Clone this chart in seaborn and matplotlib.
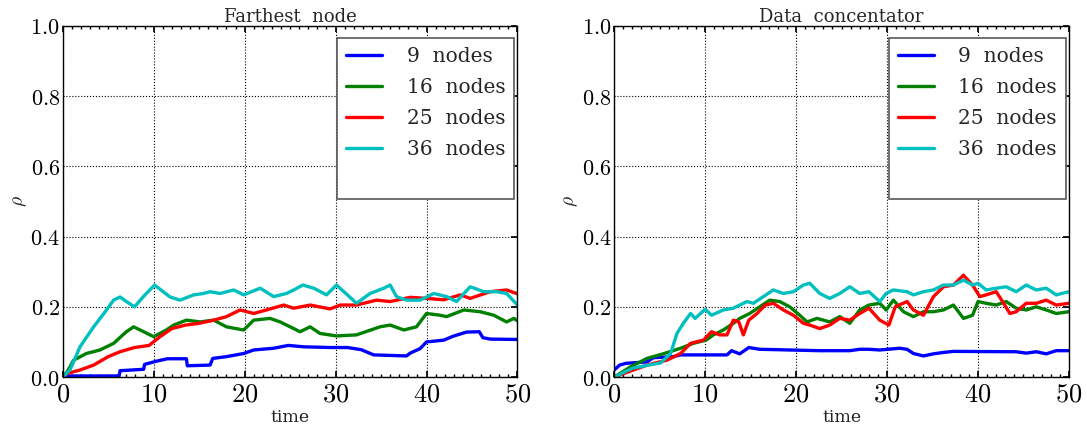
import numpy as np
import pandas as pd
import matplotlib
matplotlib.use("Agg")
import matplotlib.pyplot as plt
import seaborn as sns
from matplotlib.ticker import FuncFormatter, MultipleLocator
from matplotlib.lines import Line2D

# ---------------- data ----------------
titles = ["Farthest  node", "Data  concentator"]
series_labels = ["9  nodes", "16  nodes", "25  nodes", "36  nodes"]
series_colors = ["#0000ff", "#008000", "#ff0000", "#00bfbf"]

# Farthest node
fn9_t = [0, 6.2, 6.3, 8.9, 9.0, 10.3, 11.5, 13.6, 13.7, 16.2, 16.5, 18.0, 19.9, 21.0, 23.2, 24.8, 26.5,
         29.5, 31.3, 32.8, 34.2, 37.8, 38.2, 39.3, 40.0, 41.9, 42.9, 44.4, 45.8, 46.2, 47.0, 50.0]
fn9_v = [0.003, 0.003, 0.018, 0.022, 0.036, 0.045, 0.052, 0.052, 0.032, 0.034, 0.053, 0.058, 0.067, 0.077,
         0.082, 0.09, 0.086, 0.084, 0.084, 0.078, 0.063, 0.06, 0.068, 0.081, 0.1, 0.105, 0.116, 0.128, 0.129,
         0.112, 0.108, 0.107]

fn16_t = [0, 0.5, 1.2, 2.6, 4.1, 5.6, 7.0, 7.8, 8.9, 10.0, 11.4, 12.2, 13.6, 15.1, 16.6, 18.0, 19.9, 21.0,
          22.8, 23.9, 25.0, 26.1, 27.2, 28.3, 30.1, 32.3, 34.9, 36.0, 37.5, 38.9, 40.0, 41.5, 42.2, 44.1,
          45.9, 47.4, 48.8, 49.6, 50]
fn16_v = [0, 0.015, 0.048, 0.067, 0.077, 0.096, 0.129, 0.143, 0.129, 0.115, 0.134, 0.148, 0.162, 0.157,
          0.162, 0.143, 0.134, 0.162, 0.167, 0.157, 0.143, 0.129, 0.143, 0.124, 0.117, 0.12, 0.143, 0.148,
          0.134, 0.143, 0.181, 0.176, 0.172, 0.191, 0.186, 0.176, 0.157, 0.167, 0.16]

fn25_t = [0, 0.5, 1.9, 3.4, 5.0, 6.3, 7.9, 9.5, 10.7, 12.0, 13.5, 15.0, 16.6, 18.0, 19.5, 21.0, 22.4, 24.3,
          25.4, 27.2, 29.4, 30.5, 32.3, 34.5, 36.0, 38.2, 40.0, 41.9, 43.7, 44.8, 47.0, 48.8, 50]
fn25_v = [0, 0.01, 0.02, 0.034, 0.058, 0.072, 0.084, 0.09, 0.115, 0.138, 0.148, 0.153, 0.162, 0.172, 0.191,
          0.181, 0.191, 0.205, 0.196, 0.205, 0.194, 0.205, 0.205, 0.219, 0.215, 0.227, 0.224, 0.22, 0.234,
          0.224, 0.243, 0.248, 0.237]

fn36_t = [0, 0.8, 1.9, 3.4, 4.5, 5.6, 6.3, 7.0, 7.9, 8.9, 10.1, 11.8, 12.9, 14.4, 15.5, 16.2, 17.3, 18.8,
          19.9, 21.7, 23.2, 24.6, 25.4, 26.4, 27.6, 29.0, 30.1, 31.3, 32.3, 33.8, 35.3, 36.0, 36.7, 37.8,
          39.3, 40.8, 42.2, 43.3, 44.8, 46.3, 47.7, 48.8, 50]
fn36_v = [0, 0.02, 0.086, 0.143, 0.18, 0.219, 0.228, 0.215, 0.2, 0.23, 0.262, 0.228, 0.219, 0.234, 0.238,
          0.243, 0.238, 0.248, 0.234, 0.253, 0.229, 0.238, 0.248, 0.262, 0.253, 0.234, 0.262, 0.234, 0.21,
          0.238, 0.253, 0.262, 0.229, 0.219, 0.219, 0.238, 0.229, 0.215, 0.257, 0.243, 0.243, 0.238, 0.205]

# Data concentrator
dc9_t = [0, 0.6, 1.3, 3.6, 4.3, 6.5, 7.3, 12.4, 12.9, 13.8, 14.8, 16.0, 22.6, 25.9, 27.0, 28.0, 29.2, 31.4,
         32.2, 32.9, 34.0, 35.1, 36.2, 37.3, 44.2, 45.3, 46.4, 47.5, 48.6, 50]
dc9_v = [0.02, 0.034, 0.039, 0.043, 0.055, 0.058, 0.063, 0.063, 0.075, 0.066, 0.084, 0.079, 0.075, 0.075,
         0.079, 0.079, 0.077, 0.082, 0.079, 0.067, 0.06, 0.066, 0.07, 0.073, 0.072, 0.068, 0.072, 0.066,
         0.075, 0.075]

dc16_t = [0, 1.8, 3.6, 5.5, 7.3, 8.7, 10.1, 10.9, 12.0, 13.1, 13.8, 14.9, 16.0, 17.1, 18.2, 19.3, 20.4, 21.2,
          22.3, 23.7, 24.8, 25.9, 27.0, 28.0, 29.2, 29.9, 30.7, 31.8, 32.9, 34.0, 35.1, 36.2, 37.3, 38.4,
          39.4, 40.0, 40.9, 42.0, 43.1, 44.2, 45.3, 46.4, 47.5, 48.6, 50]
dc16_v = [0, 0.029, 0.053, 0.067, 0.082, 0.096, 0.105, 0.12, 0.134, 0.153, 0.167, 0.181, 0.2, 0.219, 0.215,
          0.2, 0.176, 0.157, 0.167, 0.157, 0.172, 0.153, 0.191, 0.205, 0.21, 0.191, 0.219, 0.186, 0.172,
          0.186, 0.186, 0.191, 0.205, 0.167, 0.176, 0.215, 0.21, 0.205, 0.215, 0.196, 0.191, 0.2, 0.191,
          0.181, 0.186]

dc25_t = [0, 3.6, 5.8, 7.3, 8.4, 9.8, 10.7, 11.6, 12.4, 13.1, 13.7, 14.2, 14.8, 15.7, 16.6, 17.5, 18.6, 19.7,
          20.8, 21.5, 22.6, 23.7, 24.8, 25.9, 27.0, 28.0, 29.2, 30.2, 30.9, 32.2, 32.9, 34.0, 35.1, 36.2,
          37.3, 38.4, 39.4, 40.2, 40.9, 42.0, 42.7, 43.5, 44.2, 45.3, 46.4, 47.5, 48.6, 50]
dc25_v = [0, 0.034, 0.048, 0.067, 0.096, 0.105, 0.129, 0.12, 0.12, 0.162, 0.157, 0.12, 0.162, 0.181, 0.205,
          0.21, 0.191, 0.176, 0.153, 0.148, 0.138, 0.148, 0.167, 0.162, 0.181, 0.196, 0.162, 0.148, 0.2,
          0.215, 0.191, 0.176, 0.229, 0.257, 0.262, 0.29, 0.262, 0.229, 0.234, 0.243, 0.215, 0.181, 0.186,
          0.21, 0.21, 0.219, 0.205, 0.21]

dc36_t = [0, 2.0, 4.0, 5.1, 6.2, 6.9, 7.6, 8.4, 8.9, 10.0, 10.7, 12.0, 13.1, 13.8, 14.6, 15.3, 16.4, 17.5,
          18.6, 19.7, 20.8, 21.5, 22.6, 23.7, 24.8, 25.9, 27.0, 28.0, 29.2, 29.9, 30.7, 32.2, 32.9, 34.0,
          35.1, 36.2, 37.3, 38.4, 39.4, 40.0, 40.9, 42.0, 43.1, 44.2, 45.3, 46.4, 47.5, 48.6, 50]
dc36_v = [0, 0.025, 0.035, 0.04, 0.067, 0.124, 0.153, 0.181, 0.167, 0.193, 0.176, 0.191, 0.196, 0.205,
          0.215, 0.21, 0.229, 0.248, 0.238, 0.243, 0.262, 0.267, 0.238, 0.224, 0.238, 0.257, 0.238, 0.243,
          0.215, 0.238, 0.248, 0.243, 0.234, 0.243, 0.248, 0.262, 0.262, 0.276, 0.262, 0.267, 0.248, 0.253,
          0.257, 0.243, 0.262, 0.248, 0.253, 0.234, 0.243]

x_ticks = [0, 10, 20, 30, 40, 50]
y_ticks = [0.0, 0.2, 0.4, 0.6, 0.8, 1.0]
x_label = "time"
y_label = r"$\rho$"

panels = [
    [(fn9_t, fn9_v), (fn16_t, fn16_v), (fn25_t, fn25_v), (fn36_t, fn36_v)],
    [(dc9_t, dc9_v), (dc16_t, dc16_v), (dc25_t, dc25_v), (dc36_t, dc36_v)],
]

# ---------------- style ----------------
sns.set_theme(style="white")
plt.rcParams.update({
    "font.family": ["DejaVu Serif"],
    "mathtext.fontset": "cm",
    "xtick.direction": "in",
    "ytick.direction": "in",
    "xtick.top": True,
    "ytick.right": True,
    "axes.edgecolor": "black",
    "axes.linewidth": 1.0,
    "xtick.major.size": 4,
    "ytick.major.size": 4,
    "xtick.minor.size": 2,
    "xtick.color": "black",
    "ytick.color": "black",
})

fig, axes = plt.subplots(1, 2, figsize=(10.87, 4.33), dpi=100)
fig.subplots_adjust(left=0.0577, right=0.9834, bottom=0.1293, top=0.94, wspace=0.2127)

for ax, title, series in zip(axes, titles, panels):
    frames = []
    for lab, (t, v) in zip(series_labels, series):
        frames.append(pd.DataFrame({"time": t, "rho": v, "series": lab}))
    df = pd.concat(frames, ignore_index=True)
    sns.lineplot(data=df, x="time", y="rho", hue="series", hue_order=series_labels,
                 palette=series_colors, estimator=None, linewidth=2.4, ax=ax, legend=False)
    ax.set_xlim(0, 50)
    ax.set_ylim(0, 1)
    ax.set_xticks(x_ticks)
    ax.set_yticks(y_ticks)
    ax.xaxis.set_minor_locator(MultipleLocator(1))
    ax.xaxis.set_major_formatter(FuncFormatter(lambda v, p: r"$%d$" % int(round(v))))
    ax.yaxis.set_major_formatter(FuncFormatter(lambda v, p: r"$%.1f$" % v))
    ax.tick_params(axis="x", which="both", labelsize=19, pad=3, top=True, bottom=True, direction="in")
    ax.tick_params(axis="y", labelsize=16, pad=2, direction="in")
    ax.grid(True, linestyle=":", color="black", linewidth=0.8)
    ax.set_title(title, fontsize=13, pad=3)
    ax.set_xlabel(x_label, fontsize=12.5, labelpad=2)
    ax.set_ylabel(y_label, fontsize=14, labelpad=1)
    for s in ax.spines.values():
        s.set_visible(True)
        s.set_color("black")
    handles = list(ax.lines[:4]) + [Line2D([], [], color="none")]
    labels = series_labels + [" "]
    leg = ax.legend(handles, labels, loc="upper right", bbox_to_anchor=(0.993, 0.966),
                    fontsize=14.5, fancybox=False, framealpha=1, edgecolor="0.35",
                    handlelength=1.8, handletextpad=1.2, borderpad=0.45, labelspacing=0.6,
                    borderaxespad=0.0)
    leg.get_frame().set_linewidth(1.2)

fig.savefig("out.png", dpi=100)
